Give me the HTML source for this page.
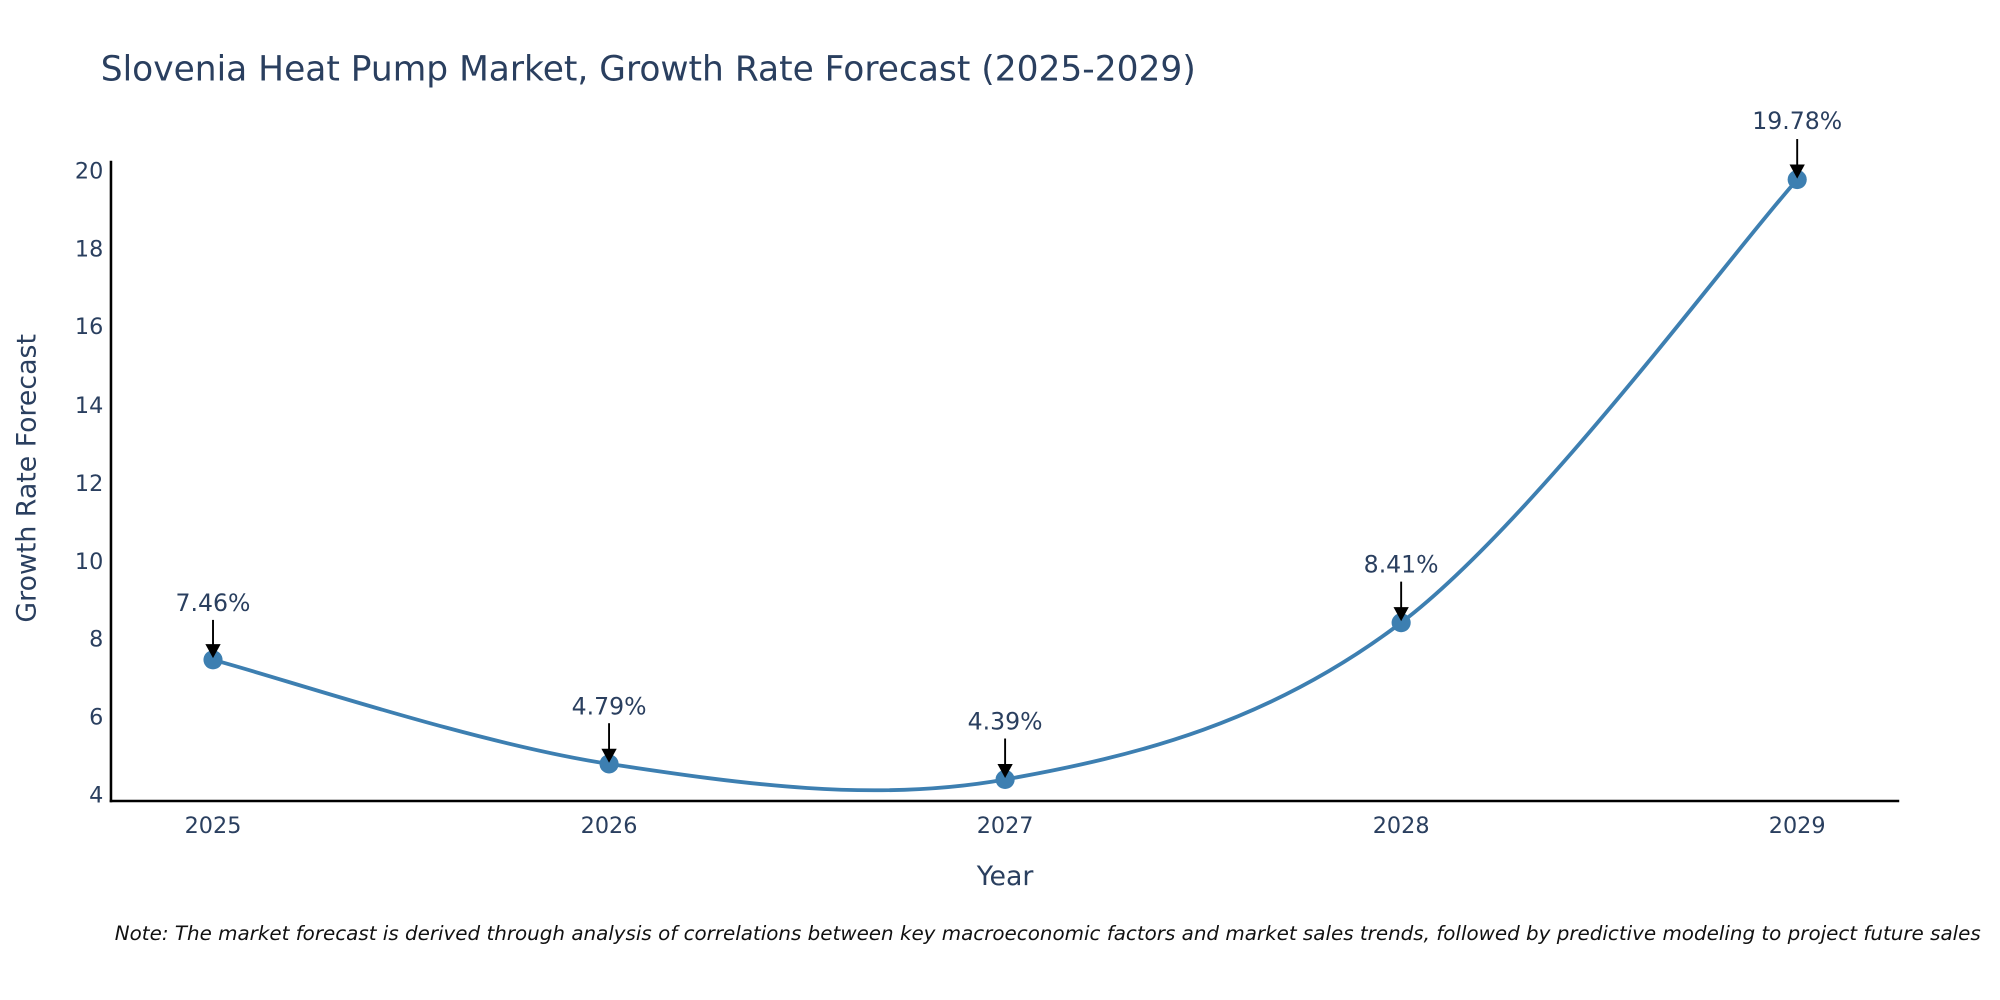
<!DOCTYPE html>
<html><head><meta charset="utf-8"><style>
html,body{margin:0;padding:0;background:#fff;overflow:hidden}
svg{display:block}
text{font-family:"DejaVu Sans","Liberation Sans",sans-serif}
</style></head><body>
<svg width="2000" height="1000" viewBox="0 0 1568 784" xmlns="http://www.w3.org/2000/svg">
<rect width="1568" height="784" fill="#fff"/>
<text x="79" y="63" font-size="27" fill="#2a3f5f">Slovenia Heat Pump Market, Growth Rate Forecast (2025-2029)</text>
<g font-size="17.5" fill="#2a3f5f" text-anchor="end">
<text x="81" y="629">4</text>
<text x="81" y="568">6</text>
<text x="81" y="507">8</text>
<text x="81" y="446">10</text>
<text x="81" y="385">12</text>
<text x="81" y="324">14</text>
<text x="81" y="262">16</text>
<text x="81" y="201">18</text>
<text x="81" y="140">20</text>
</g>
<g font-size="17.5" fill="#2a3f5f" text-anchor="middle">
<text x="167" y="653">2025</text>
<text x="477.5" y="653">2026</text>
<text x="788" y="653">2027</text>
<text x="1098.5" y="653">2028</text>
<text x="1409" y="653">2029</text>
<text x="788" y="694" font-size="21">Year</text>
<text transform="translate(28,375) rotate(-90)" font-size="21">Growth Rate Forecast</text>
</g>
<line x1="87" y1="126" x2="87" y2="629" stroke="#000" stroke-width="2"/>
<line x1="86" y1="628" x2="1489" y2="628" stroke="#000" stroke-width="2"/>
<path d="M167,517.3 C218.75,530.9 374,583.3 477.5,598.9 C581,614.5 684.5,629.6 788,611.1 C891.5,592.7 995,566.6 1098.5,488.2 C1202,409.8 1357.25,198.7 1409,140.8" fill="none" stroke="#3d7fb1" stroke-width="3"/>
<g fill="#3d7fb1">
<circle cx="167" cy="517.3" r="7.5"/>
<circle cx="477.5" cy="598.9" r="7.5"/>
<circle cx="788" cy="611.1" r="7.5"/>
<circle cx="1098.5" cy="488.2" r="7.5"/>
<circle cx="1409" cy="140.8" r="7.5"/>
</g>
<g stroke="#000" stroke-width="1.5">
<line x1="167" y1="486" x2="167" y2="506"/>
<line x1="477.5" y1="567" x2="477.5" y2="588"/>
<line x1="788" y1="579" x2="788" y2="600"/>
<line x1="1098.5" y1="456" x2="1098.5" y2="477"/>
<line x1="1409" y1="109" x2="1409" y2="130"/>
</g>
<g fill="#000">
<polygon points="161,505 173,505 167,516"/>
<polygon points="471.5,587 483.5,587 477.5,598"/>
<polygon points="782,599 794,599 788,610"/>
<polygon points="1092.5,476 1104.5,476 1098.5,487"/>
<polygon points="1403,129 1415,129 1409,140"/>
</g>
<g font-size="18.5" fill="#2a3f5f" text-anchor="middle">
<text x="167" y="479">7.46%</text>
<text x="477.5" y="560">4.79%</text>
<text x="788" y="572">4.39%</text>
<text x="1098.5" y="449">8.41%</text>
<text x="1409" y="101">19.78%</text>
</g>
<text x="90" y="737" font-size="15.6" font-style="italic" fill="#111">Note: The market forecast is derived through analysis of correlations between key macroeconomic factors and market sales trends, followed by predictive modeling to project future sales</text>
</svg>
</body></html>
